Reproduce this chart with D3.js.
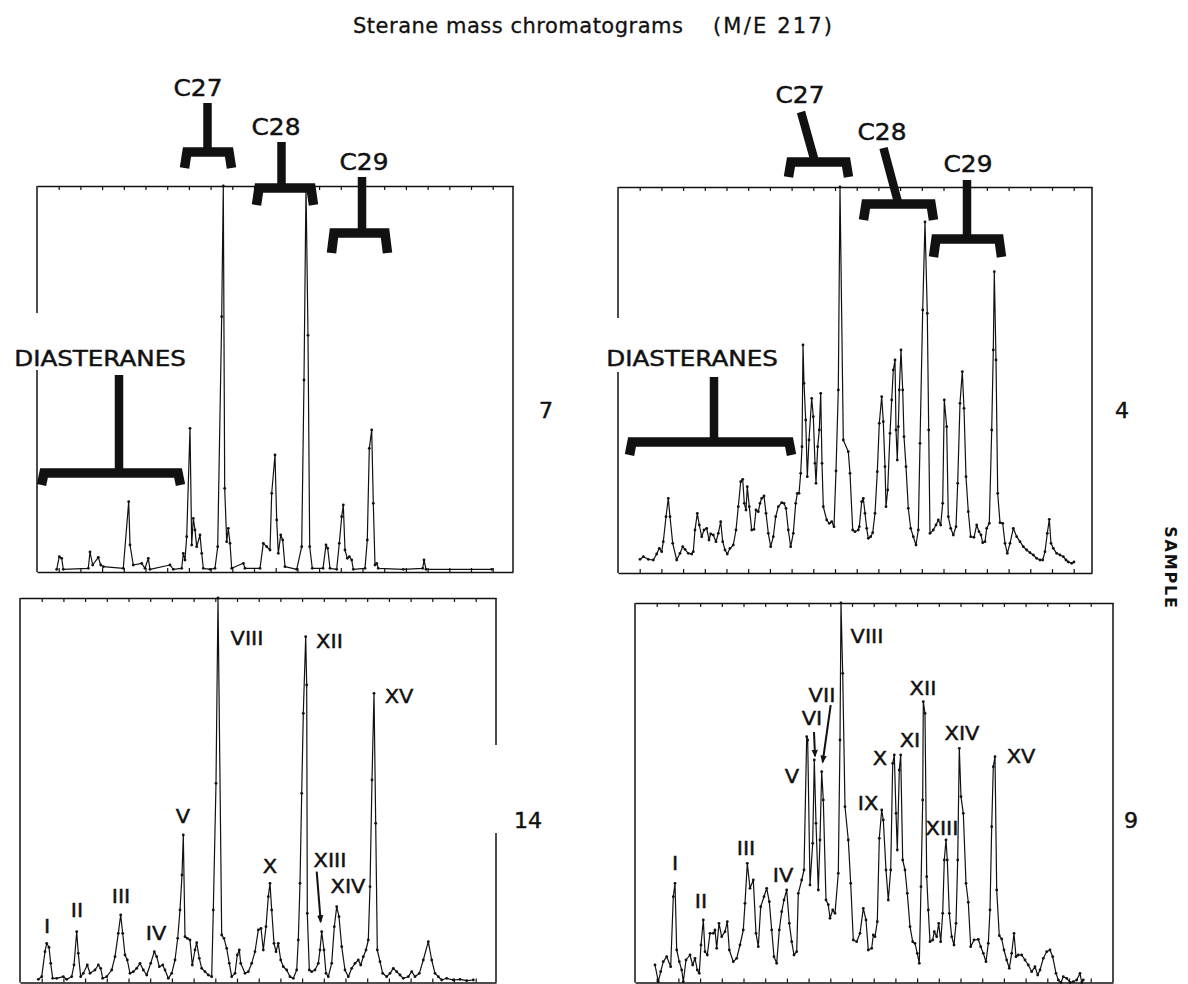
<!DOCTYPE html>
<html><head><meta charset="utf-8">
<script src="https://cdn.jsdelivr.net/npm/d3@7"></script>
<style>
body{margin:0;background:#fff}
svg{display:block}
text{font-family:"DejaVu Sans",sans-serif;fill:#111}
</style>
</head><body>
<svg id="chart" width="1188" height="984"></svg>
<script>
// ---------- DATA (scan number, abundance) ----------
const traceA = [[19.7,2.7],[22.3,15.3],[24.7,13.7],[26.3,2.7],[51.3,3.7],[53,20],[55.7,7],[61.3,14.7],[63.7,7],[66.3,5.3],[86.3,3.7],[91.7,70.3],[93,27],[96.3,7],[104.7,8.7],[108,3.7],[111.3,13.7],[113,2.7],[133,7],[136.3,2.7],[144.7,3.7],[146.3,18.7],[148,12],[149.7,35.3],[153,143.7],[154.7,27],[156.3,53.7],[158,42],[159.7,25.3],[163,37],[164.7,18.7],[166.3,3.7],[173,2.7],[178,3.7],[180.7,25.3],[184.7,255.3],[186.3,386],[187.7,83.7],[189.7,30.3],[191.3,43.7],[193,28.7],[194.7,3.7],[206.3,8.7],[208,3.7],[223,3.7],[226.3,28.7],[229.7,25.3],[233,22],[234.7,78.7],[238,117],[239.7,52],[241.3,18.7],[243.7,37],[245.7,32],[248,5.3],[259.7,2.7],[264.7,25.3],[267,192],[269,386],[271,236.7],[272.7,25.3],[275.3,3.7],[286,3.7],[289,27],[290.7,23.7],[293,3.7],[299.7,2.7],[302.3,28.7],[304.7,55.3],[306.3,67],[308,22],[310.3,13.7],[312.3,15.3],[314.7,12],[316.3,2.7],[328,3.7],[330.3,32],[332.3,123.7],[334.7,142],[336.3,68.7],[338,7],[339.7,8.7],[341.3,3.7],[366.3,2.7],[385.7,3.7],[387,12],[389,2.7],[454.7,2.7]];

const traceB = [[22,13.7],[25.3,16.3],[30.3,13.7],[35.3,13],[38.7,19],[41.3,24.7],[43.7,21.3],[45.3,31.3],[48,56.3],[50.3,74.7],[52,56.3],[54.7,29.7],[58.7,13],[62,19.7],[64.7,26.3],[67,23.7],[70.3,19.7],[73.7,19],[75.3,21.3],[77,43],[79.3,59.7],[81.3,48],[83.7,36.3],[86,43],[88.7,44.7],[91,33],[92.7,39],[95.3,38],[98,31.3],[100.3,39.7],[102.7,51.3],[104.7,31.3],[107,23],[109.3,19],[112,24.7],[115.3,28],[118,43],[120.3,66.3],[122.7,91.3],[124.7,93.7],[126.3,69.7],[128,63],[129.3,86.3],[131.3,66.3],[133.7,43],[136,43.7],[138,63],[140.3,61.3],[142,69.7],[143.7,74.7],[146,77],[148,59.7],[150.3,39.7],[152.7,26.3],[155.3,36.3],[157.7,56.3],[160.3,66.3],[163.7,70.3],[166,69.7],[168,64.7],[170.3,43],[172.7,26.3],[175.3,39.7],[177.7,69.7],[179.3,79.7],[181,79.7],[182.7,99.7],[184,126.3],[185,228],[186,189.7],[187.7,153],[189.3,96.3],[191,133],[193.7,174.7],[195.3,156.3],[197,109.7],[198,89.7],[199.7,126.3],[201.3,143],[202.7,179.7],[204,109.7],[205.3,66.3],[208.7,53],[211.3,49.7],[213.7,51.3],[216,46.3],[218,102],[220.3,183],[222,386],[225.3,133],[230.3,121.3],[232,99.7],[234.7,43],[237,41.3],[240.3,43],[241.3,46.3],[243.7,71.3],[245.3,74.7],[247,59.7],[248.7,44.7],[250.3,34.7],[252.7,36.3],[254.7,40.3],[257,59.7],[259.3,101.3],[261.3,149.7],[263.7,176.3],[265.3,151.3],[267,106.3],[268,66.3],[269.7,83],[272,139.7],[273.7,173],[275.3,203],[277,213],[278,143],[279.3,113],[280.3,146.3],[281.3,183],[283,223],[284.7,183],[286,136.3],[288,106.3],[290.3,64.7],[292.7,44.7],[295.3,36.3],[298,28],[300.3,43],[302,129.7],[304.7,263],[307,351],[309.3,259.7],[310.7,143],[312,39.7],[315.3,43],[318,48],[320.3,53],[322.7,48],[324.7,69.7],[326.3,173],[328.7,146.3],[330.3,56.3],[332.7,44.7],[335.3,38],[338,46.3],[339.7,89.7],[342,169.7],[344.3,201.3],[346,164.7],[348,96.3],[350.3,61.3],[352.7,36.3],[356,35.7],[358.7,48],[361,41.3],[363,38],[364.7,30.3],[367,31.3],[368.7,44.7],[371.3,49.7],[373.7,143],[375.3,223],[376.3,301.3],[378,213],[379.7,79.7],[382,50.3],[384.7,49.7],[387,29.7],[389.3,19.7],[392,29.7],[395.3,44.7],[398.7,36.3],[402,31.3],[405.3,26.3],[408.7,23],[412,20.3],[415.3,18],[418.7,14.7],[422,13],[424.7,13],[427,21.3],[429.3,39.7],[431.3,53.7],[433,29.7],[435.3,24.7],[438.7,19.7],[442,18],[445.3,16.3],[448,13],[450.3,11],[453.7,9.7],[456,11]];

const traceC = [[18.3,4.7],[21.7,7.3],[25,32.3],[26.7,40.7],[29,36.7],[30.7,20.7],[32.7,5.7],[36.7,5.7],[43.3,7.3],[46.7,4.7],[51.7,7.3],[54,19],[56.7,52.3],[58.3,30.7],[60.7,7.3],[63.3,10.7],[67.3,19],[70,10.7],[75,14],[78.3,19],[80.7,15.7],[82.7,5.7],[86.7,7.3],[91.7,14],[95,27.3],[98.3,50.7],[100.7,69],[102.7,50.7],[105,29],[107.3,24],[110,10.7],[113.3,12.3],[116.7,15.7],[120,20.7],[123.3,14],[126.7,9],[130.7,20.7],[134.3,32.3],[136.7,27.3],[139.3,17.3],[142.7,19],[145,14],[148.3,5.7],[151.7,10.7],[155,24],[157.7,45.7],[160,74],[162,109],[163.3,149],[165,47.3],[167.3,45.7],[170,44],[172.3,19],[175,34],[176.7,41.3],[179.3,25.7],[181.7,15.7],[185,12.3],[188.3,9],[191.7,7.3],[193.3,74],[196,200.7],[198,386],[201.7,49],[204,45.7],[206.7,35.7],[209.3,20.7],[211.7,7.3],[215,10.7],[217.3,29],[219.3,34],[220.7,20.7],[225,10.7],[228.3,12.3],[231.7,20.7],[235,32.3],[238.3,54],[241,55.7],[243.3,34],[246,57.3],[248.3,87.3],[250,100.7],[251.7,74],[254,40.7],[256,32.3],[258.3,40.7],[260.7,24],[263.3,17.3],[266.7,14],[270,7.3],[273.3,5.7],[276.7,14],[278.3,44],[280,100.7],[281.7,190.7],[283.3,270.7],[285.7,347.3],[286.7,299],[287.3,70.7],[289.3,14],[291.7,12.3],[295,14],[298.3,20.7],[300,34],[301.7,52.3],[304,34],[306,10.7],[308.3,7.3],[311.7,20.7],[314.3,57.3],[316.7,77.3],[319,67.3],[321.7,37.3],[325,14],[328.3,7.3],[331.7,15.7],[335,20.7],[338.3,24],[340.7,19],[343.3,27.3],[346,34],[348.3,44],[350,97.3],[352,204],[354,290.7],[355.7,160.7],[357.3,34],[360,22.3],[362.7,10.7],[366.7,7.3],[370,10.7],[373.3,15.7],[376.7,12.3],[380,9],[383.3,5.7],[388.3,7.3],[391.7,12.3],[395,7.3],[399.3,10.7],[403.3,24],[408.3,42.3],[411.7,24],[415,10.7],[418.3,7.3],[421.7,4],[426.7,5.7],[433.3,4],[440,4.7],[446.7,3.3],[453.3,4]];

const traceD = [[20,18],[23.3,1.3],[25.7,11.3],[28.3,21.3],[31.7,26.3],[35.7,16.3],[38.3,86.3],[40,99.7],[41.7,33],[44.3,21.3],[46.7,13],[48.3,1.3],[51,23],[55,28],[57.7,18],[60,24.7],[62.3,13],[64.3,9.7],[66,38],[68.3,63],[70,31.3],[72.3,28],[75,49.7],[78.3,49.7],[80,53],[81.7,34.7],[84,59.7],[86.7,46.3],[90,51.3],[92.3,61.3],[94.3,33],[98.3,21.3],[101.7,24.7],[105,38],[108.3,53],[110,79.7],[112.3,119.7],[115,94.7],[118.3,103],[121,49.7],[123.3,36.3],[125.7,76.3],[129,86.3],[131.7,94.7],[134.3,81.3],[136.7,53],[139,26.3],[141.7,19.7],[144.3,53],[146.7,71.3],[149,83],[151.7,93],[154.3,59.7],[156.7,41.3],[159,28],[161.7,31.3],[163.3,89.7],[166.7,103],[169,113],[171.7,246.3],[172.7,243],[175,98],[177.7,139.7],[179.3,223],[181,159.7],[183.3,93],[185,143],[186.7,211.3],[188.3,183],[191,83],[193.3,78.3],[195,64.7],[197.7,73],[200,69.7],[203.3,109.7],[205,243],[206,380],[207.7,309.7],[210,176.3],[213.3,143],[215.7,99.7],[218.3,43],[221.7,41.3],[225,49.7],[228.3,74.7],[231,63],[233.3,33],[236.7,34.7],[238.3,48],[240,46.3],[242.3,61.3],[244.3,144.7],[246.7,173],[248.3,163],[251,113],[253.3,83],[255.7,113],[257.7,219.7],[259.3,228],[261,169.7],[262.3,133],[264.3,213],[265.7,228],[267.7,123],[270,113],[272.3,89.7],[275,56.3],[277.7,41.3],[280,39.7],[282.3,29.7],[284.3,19.7],[286,96.3],[287.7,183],[288.3,281.3],[290,269.7],[291.7,106.3],[293.3,73],[295,41.3],[297.7,43],[299.3,51.3],[301.7,46.3],[303.7,59.7],[305.7,41.3],[307.7,69.7],[309.3,123],[311,143],[312.3,123],[314.3,69.7],[316.7,46.3],[319,38],[321,59.7],[322.7,123],[324.3,234.7],[326,186.3],[328.3,169.7],[331,99.7],[333.3,80.7],[335.7,36.3],[339,43],[343.3,43.7],[345.7,36.3],[348.3,29.7],[351,21.3],[353.3,39.7],[355,73],[356.7,156.3],[358.3,216.3],[360,226.3],[361.7,93],[364.3,47.3],[366.7,44],[369,33],[371.7,23],[374.3,14.7],[376.7,29.7],[379,49.7],[381,26.3],[383.3,28],[386.7,28],[390,23],[393.3,18],[396.7,11.3],[400,16.3],[402.7,8],[405,13],[408.3,24.7],[411.7,31.3],[415,33],[417.7,26.3],[421,9.7],[423.3,3],[426,0.5],[428.3,6.3],[431.7,4.7],[435,0.5],[438.3,1.3],[441.7,3],[445,9.7],[446.7,0.5],[448.3,3]];

// carbon-number brackets (panel units)
const bracketsA = [
  {t:"C27", lx:161, ly:476, x0:150, x1:192, bar:420, leg:404, sx0:170.5, sy:469, sx1:170.5},
  {t:"C28", lx:239, ly:437, x0:222, x1:274, bar:384, leg:367, sx0:244.5, sy:430, sx1:244.5},
  {t:"C29", lx:327, ly:402, x0:297, x1:348, bar:339, leg:319, sx0:325, sy:395, sx1:325},
  {t:"DIASTERANES", lx:63, ly:206, x0:7, x1:141, bar:99, leg:87, sx0:82, sy:197, sx1:82}
];
const bracketsB = [
  {t:"C27", lx:182, ly:470, x0:173, x1:228, bar:411, leg:396, sx0:183, sy:461, sx1:197},
  {t:"C28", lx:264, ly:433, x0:248, x1:313, bar:369, leg:353, sx0:265.5, sy:425, sx1:280.5},
  {t:"C29", lx:350, ly:401, x0:318, x1:381, bar:334, leg:316, sx0:349, sy:393, sx1:349},
  {t:"DIASTERANES", lx:74, ly:207, x0:14, x1:171, bar:131, leg:118, sx0:96, sy:196, sx1:96}
];

// peak identifiers
const peakLabelsC = [
  {t:"I",x:27,y:51},{t:"II",x:57,y:67},{t:"III",x:101,y:81},{t:"IV",x:136,y:44},
  {t:"V",x:163,y:161},{t:"VIII",x:227,y:339},{t:"X",x:250,y:111},{t:"XII",x:309.5,y:336},
  {t:"XIII",x:310,y:117},{t:"XIV",x:328,y:91},{t:"XV",x:379,y:281}
];
const arrowsC = [{x0:296.7,y0:112.3,x1:300.7,y1:62.3}];
const peakLabelsD = [
  {t:"I",x:40,y:113},{t:"II",x:66,y:75},{t:"III",x:111,y:128},{t:"IV",x:148,y:101},
  {t:"V",x:157,y:200},{t:"VI",x:177,y:258},{t:"VII",x:187,y:281},{t:"VIII",x:232,y:340},
  {t:"IX",x:233,y:173},{t:"X",x:245,y:218},{t:"XI",x:275,y:236},{t:"XII",x:288,y:288},
  {t:"XIII",x:307,y:148},{t:"XIV",x:327,y:243},{t:"XV",x:386,y:220}
];
const arrowsD = [{x0:179,y0:251,x1:180,y1:227},{x0:195.7,y0:278,x1:187.7,y1:221}];

const sampleNumbers = ["7","4","14","9"];
const scanTickInterval = 21.7;

// ---------- LAYOUT ----------
const svg = d3.select("#chart");
svg.append("defs").append("marker")
  .attr("id","ah").attr("viewBox","0 0 10 10").attr("refX",8).attr("refY",5)
  .attr("markerWidth",4).attr("markerHeight",4).attr("orient","auto")
  .append("path").attr("d","M0,1 L10,5 L0,9 Z").attr("fill","#111");

// wide lettering helper (horizontal stretch to mimic stencil lettering)
function label(parent, x, y, txt, size, sx, anchor) {
  return parent.append("text")
    .attr("transform", `translate(${x},${y}) scale(${sx},1)`)
    .attr("text-anchor", anchor || "middle")
    .attr("font-size", size)
    .attr("stroke", "#111").attr("stroke-width", 0.45)
    .text(txt);
}

svg.append("text").attr("x",353).attr("y",33).attr("font-size",21)
  .attr("stroke","#111").attr("stroke-width",0.3)
  .attr("textLength",330).attr("lengthAdjust","spacing").text("Sterane mass chromatograms");
svg.append("text").attr("x",713).attr("y",33).attr("font-size",21)
  .attr("stroke","#111").attr("stroke-width",0.3)
  .attr("textLength",119).attr("lengthAdjust","spacing").text("(M/E 217)");

const panels = [
  {trace:traceA, L:37, T:186, R:513, B:572, xMax:476, yMax:386, brackets:bracketsA,
   leftGap:[202,259], rightGap:null, num:{t:sampleNumbers[0],x:546,y:418}},
  {trace:traceB, L:618, T:187, R:1092, B:573, xMax:474, yMax:386, brackets:bracketsB,
   leftGap:[201,255], rightGap:null, num:{t:sampleNumbers[1],x:1122,y:418}},
  {trace:traceC, L:20, T:598, R:496, B:984, xMax:476, yMax:386, labels:peakLabelsC, arrows:arrowsC,
   leftGap:null, rightGap:[151,239], num:{t:sampleNumbers[2],x:528,y:828}, bottomOff:1.5},
  {trace:traceD, L:635, T:603, R:1113, B:983, xMax:478, yMax:380, labels:peakLabelsD, arrows:arrowsD,
   leftGap:null, rightGap:null, num:{t:sampleNumbers[3],x:1131,y:828}, bottomOff:0.5}
];

panels.forEach(p => {
  const x = d3.scaleLinear().domain([0,p.xMax]).range([p.L,p.R]);
  const y = d3.scaleLinear().domain([0,p.yMax]).range([p.B,p.T]);
  const g = svg.append("g");
  const ticks = d3.range(scanTickInterval, p.xMax-2, scanTickInterval);

  const top = g.append("g").attr("transform",`translate(0,${p.T})`)
    .call(d3.axisTop(x).tickValues(ticks).tickSizeInner(-4).tickSizeOuter(0).tickFormat(""));
  const by = p.B - (p.bottomOff||0);
  const bot = g.append("g").attr("transform",`translate(0,${by})`)
    .call(d3.axisBottom(x).tickValues(ticks).tickSizeInner(-4).tickSizeOuter(0).tickFormat(""));
  [top,bot].forEach(a=>{a.selectAll("path").attr("stroke","#111").attr("stroke-width",1.5);
    a.selectAll("line").attr("stroke","#111").attr("stroke-width",1.2);});

  const side = (xx, gap) => {
    const segs = gap ? [[0,gap[0]],[gap[1],p.yMax]] : [[0,p.yMax]];
    segs.forEach(s => g.append("line").attr("x1",xx).attr("x2",xx)
      .attr("y1",Math.min(y(s[0]),by)).attr("y2",y(s[1]))
      .attr("stroke","#111").attr("stroke-width",1.5));
  };
  side(p.L, p.leftGap);
  side(p.R, p.rightGap);

  const line = d3.line().x(d=>x(d[0])).y(d=>y(d[1]));
  g.append("path").datum(p.trace).attr("d",line).attr("fill","none")
    .attr("stroke","#111").attr("stroke-width",1.2).attr("stroke-linejoin","round");
  g.selectAll("circle.pt").data(p.trace).join("circle").attr("class","pt")
    .attr("cx",d=>x(d[0])).attr("cy",d=>y(d[1])).attr("r",1.4).attr("fill","#111");

  (p.brackets||[]).forEach(b => {
    g.append("path")
      .attr("d",`M${x(b.x0)-2.5},${y(b.leg)} L${x(b.x0)},${y(b.bar)} L${x(b.x1)},${y(b.bar)} L${x(b.x1)+2.5},${y(b.leg)}`)
      .attr("fill","none").attr("stroke","#111").attr("stroke-width",9.5).attr("stroke-linejoin","miter");
    g.append("line").attr("x1",x(b.sx0)).attr("y1",y(b.sy)).attr("x2",x(b.sx1)).attr("y2",y(b.bar))
      .attr("stroke","#111").attr("stroke-width",8.5);
    const isD = b.t==="DIASTERANES";
    label(g, x(b.lx), y(b.ly), b.t, isD ? 20.5 : 23, isD ? 1.2 : 1.08);
  });

  (p.labels||[]).forEach(l => label(g, x(l.x), y(l.y), l.t, 20, 1.05));
  (p.arrows||[]).forEach(a => {
    g.append("line").attr("x1",x(a.x0)).attr("y1",y(a.y0)).attr("x2",x(a.x1)).attr("y2",y(a.y1))
      .attr("stroke","#111").attr("stroke-width",2).attr("marker-end","url(#ah)");
  });

  label(svg, p.num.x, p.num.y, p.num.t, 21, 1.05);
});

svg.append("text").attr("transform","translate(1165,568) rotate(90)").attr("text-anchor","middle")
  .attr("font-size",16).attr("font-weight","bold").attr("letter-spacing",1.8).text("SAMPLE");
</script>
</body></html>
